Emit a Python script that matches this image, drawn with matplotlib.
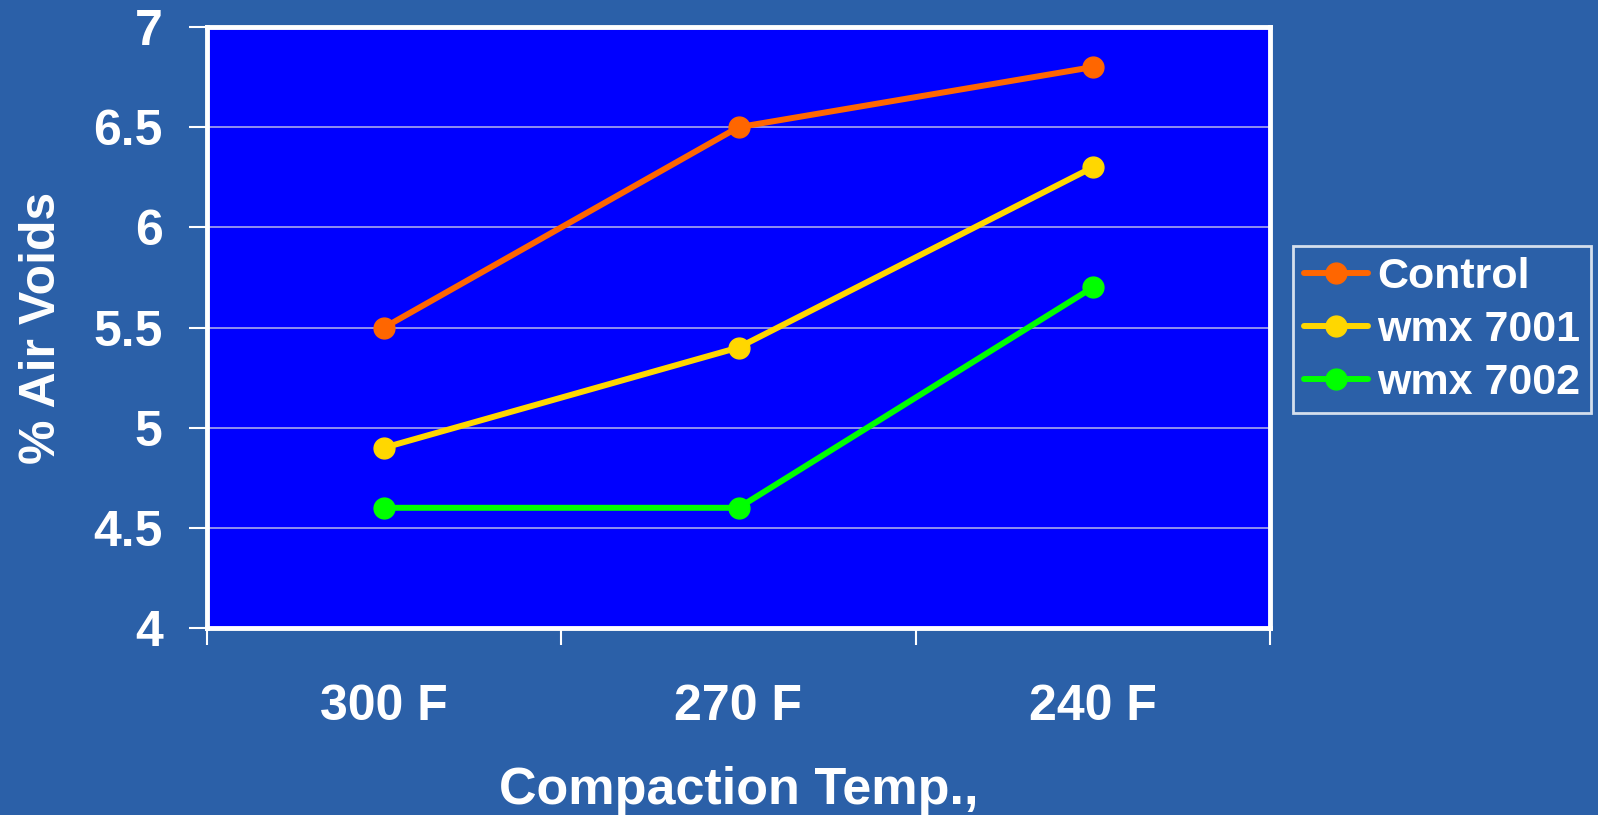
import matplotlib
matplotlib.use("Agg")
import matplotlib.pyplot as plt
from matplotlib.ticker import FixedLocator

categories = ["300 F", "270 F", "240 F"]
control = [5.5, 6.5, 6.8]
wmx7001 = [4.9, 5.4, 6.3]
wmx7002 = [4.6, 4.6, 5.7]
series_names = ["Control", "wmx 7001", "wmx 7002"]
series_colors = ["#FF6600", "#FFD700", "#00FF00"]
yticks = [4, 4.5, 5, 5.5, 6, 6.5, 7]
ytick_labels = ["4", "4.5", "5", "5.5", "6", "6.5", "7"]

plt.rcParams['font.family'] = ['Liberation Sans', 'DejaVu Sans']
plt.rcParams['font.weight'] = 'bold'

bg = "#2B60A8"
fig = plt.figure(figsize=(15.98, 8.15), dpi=100, facecolor=bg)
ax = fig.add_axes([207/1598, 1-628/815, (1270-207)/1598, (628-27)/815])
ax.set_facecolor("#0000FF")

x = list(range(len(categories)))
for vals, name, col in zip([control, wmx7001, wmx7002], series_names, series_colors):
    ax.plot(x, vals, color=col, lw=4.3, marker='o', markersize=15,
            markerfacecolor=col, markeredgecolor=col, label=name, zorder=3,
            solid_capstyle='round')

ax.set_xlim(-0.5, 2.5)
ax.set_ylim(4, 7)
ax.set_yticks(yticks)
ax.set_yticklabels(ytick_labels)
ax.yaxis.grid(True, color="#9A9AEE", lw=1.3)
ax.set_axisbelow(True)

ax.set_xticks(x)
ax.set_xticklabels(categories)
ax.xaxis.set_minor_locator(FixedLocator([-0.5, 0.5, 1.5, 2.5]))
ax.tick_params(axis='x', which='major', length=0, pad=40, labelsize=36, colors='white')
ax.tick_params(axis='x', which='minor', length=12, width=1.5, color='white')
ax.tick_params(axis='y', which='major', length=13, width=1.5, color='white', pad=19,
               labelsize=36, labelcolor='white')

for s in ax.spines.values():
    s.set_color('white')
    s.set_linewidth(3.5)

for lab in ax.get_xticklabels() + ax.get_yticklabels():
    lab.set_fontweight('bold')

ax.set_xlabel("Compaction Temp.,", fontsize=37.5, fontweight='bold', color='white', labelpad=26)
ax.set_ylabel("% Air Voids", fontsize=36, fontweight='bold', color='white', labelpad=20)

leg = fig.legend(loc='upper left', bbox_to_anchor=(1293/1598, 1-246/815),
                 fontsize=31, frameon=True, fancybox=False, facecolor=bg,
                 edgecolor='white', labelcolor='white', handlelength=1.5,
                 handletextpad=0.2, borderpad=0.25, labelspacing=0.3,
                 borderaxespad=0)
leg.get_frame().set_linewidth(2)
for t in leg.get_texts():
    t.set_fontweight('bold')

fig.savefig("out.png", dpi=100, facecolor=bg)
